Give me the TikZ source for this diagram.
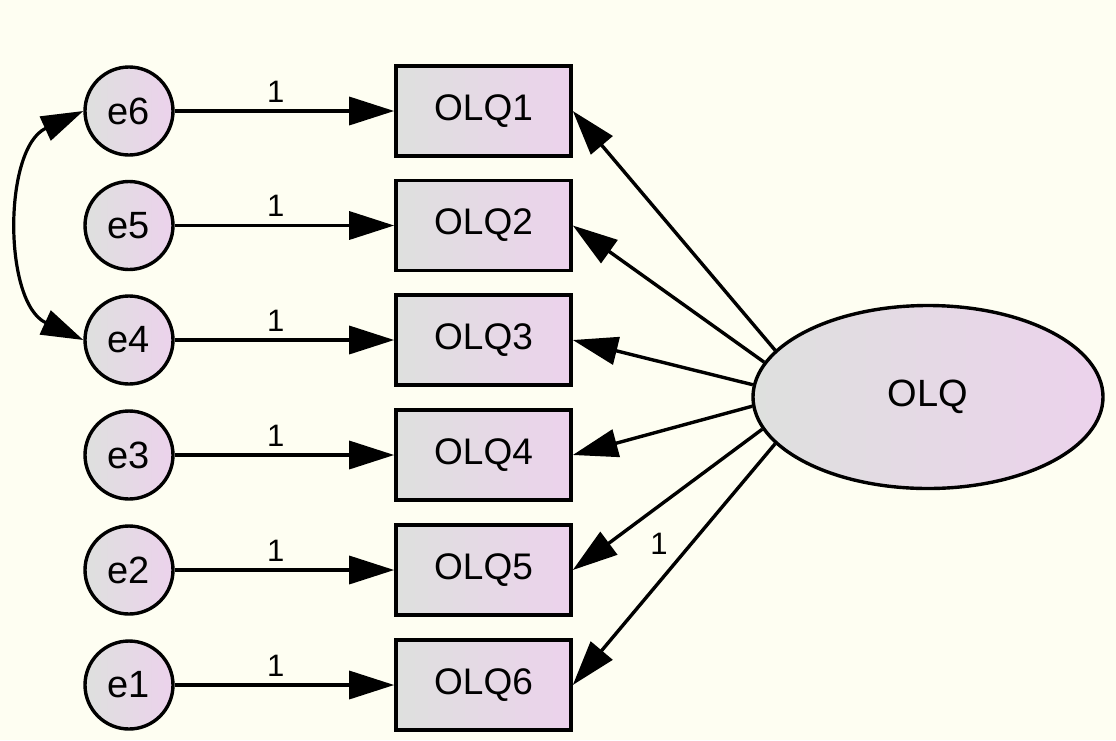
\documentclass[tikz,border=0pt]{standalone}
\usepackage{fontspec}
\setmainfont{Liberation Sans}
\usetikzlibrary{arrows.meta,shapes.geometric}
\definecolor{paper}{RGB}{254,254,242}
\definecolor{shadeL}{RGB}{222,224,222}
\definecolor{shadeR}{RGB}{236,210,236}
\tikzset{
  obsbox/.style={rectangle, draw, line width=3.6pt, minimum width=175pt, minimum height=90pt,
    inner sep=0pt, left color=shadeL, right color=shadeR, font=\fontsize{37}{40}\selectfont},
  errvar/.style={circle, draw, line width=3.4pt, minimum size=88pt, inner sep=0pt,
    left color=shadeL, right color=shadeR, font=\fontsize{38}{40}\selectfont},
  latvar/.style={ellipse, draw, line width=3.4pt, minimum width=350pt, minimum height=183pt,
    inner sep=0pt, left color=shadeL, right color=shadeR, font=\fontsize{38}{40}\selectfont},
  regpath/.style={line width=3.4pt, -{Triangle[length=45pt,width=28pt]}},
  covpath/.style={line width=3.2pt, {Triangle[length=42pt,width=26pt]}-{Triangle[length=42pt,width=26pt]}},
  weight/.style={font=\fontsize{31}{34}\selectfont, inner sep=2pt}
}
\begin{document}
\begin{tikzpicture}[x=1pt,y=-1pt]
  \useasboundingbox (0,0) rectangle (1116,740);
  \fill[paper] (0,0) rectangle (1116,740);

  % latent factor
  \node[latvar] (OLQ) at (928,397) {OLQ};

  % indicators and their error terms
  \foreach \i/\e/\y in {1/6/111, 2/5/225.5, 3/4/340, 4/3/455, 5/2/570, 6/1/685} {
    \node[obsbox] (B\i) at (483.5,\y) {OLQ\i};
    \node[errvar] (e\e) at (129,\y) {e\e};
    \draw[regpath] (e\e) -- node[weight, pos=0.46, above=5pt] {1} (B\i);
  }

  % loadings
  \draw[regpath] (OLQ.163) -- (B1.east);
  \draw[regpath] (OLQ.168.5) -- (B2.east);
  \draw[regpath] (OLQ.176.5) -- (B3.east);
  \draw[regpath] (OLQ.183.5) -- (B4.east);
  \draw[regpath] (OLQ.191.5) -- node[weight, pos=0.64, shift={(18,25)}] {1} (B5.east);
  \draw[regpath] (OLQ.197) -- (B6.east);

  % error covariance
  \draw[covpath] (e6.west) .. controls (3,148) and (3,303) .. (e4.west);
\end{tikzpicture}
\end{document}
